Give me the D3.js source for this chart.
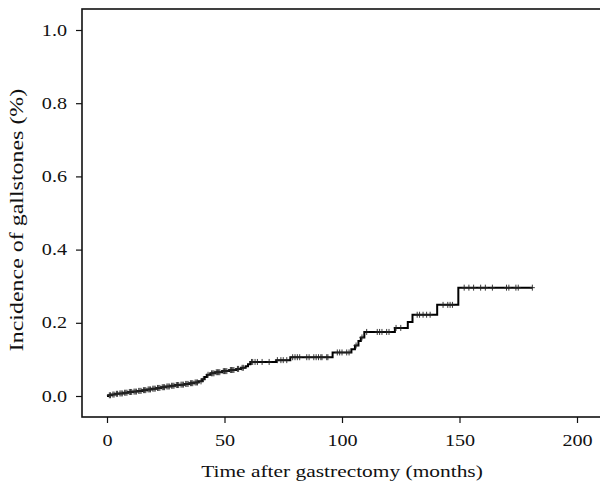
<!DOCTYPE html>
<html>
<head>
<meta charset="utf-8">
<script src="https://cdn.jsdelivr.net/npm/d3@7"></script>
<style>
  body { margin: 0; background: #fff; }
  text { font-family: "Liberation Serif", "DejaVu Serif", serif; fill: #111; }
</style>
</head>
<body>
<svg id="chart" width="600" height="483"></svg>
<script>
// cumulative incidence step curve (event times in months, value after the step)
const stepTimes = [0, 0.5, 2, 3.5, 5, 7, 9, 11, 13, 15, 17, 19, 21, 23, 25, 27, 29, 31, 33, 35, 37, 39,
    40.5, 41.5, 42.5, 44, 46, 49, 52, 55, 57, 59, 60, 61, 72, 78, 96,
    104, 105.5, 107, 108, 109.5, 122.5, 128, 130, 140.5, 149.5]
const stepValues = [0, 0.002, 0.004, 0.006, 0.007, 0.009, 0.011, 0.012, 0.014, 0.016, 0.018, 0.020, 0.022, 0.024, 0.026, 0.028, 0.030, 0.031, 0.033, 0.035, 0.037, 0.040,
    0.046, 0.052, 0.058, 0.062, 0.065, 0.068, 0.071, 0.074, 0.077, 0.081, 0.087, 0.093, 0.098, 0.106, 0.119,
    0.128, 0.138, 0.150, 0.160, 0.175, 0.186, 0.202, 0.222, 0.249, 0.296]
const endTime = 181

// censored observations (months)
const censorTimes = [1, 1.5, 2.5, 3, 4, 4.5, 5.5, 6, 6.5, 7.5, 8, 8.5, 9.5, 10, 10.5, 11.5, 12, 12.5, 13.5, 14, 14.5,
    15.5, 16, 16.5, 17.5, 18, 18.5, 19.5, 20, 20.5, 21.5, 22, 22.5, 23.5, 24, 24.5, 25.5, 26, 26.5, 27.5, 28, 28.5,
    29.5, 30, 30.5, 31.5, 32, 32.5, 33.5, 34, 34.5, 35.5, 36, 36.5, 37.5, 38, 38.5, 40, 41, 43, 44.5, 45, 45.5, 46.5,
    47, 47.5, 48, 49.5, 50, 50.5, 51, 52.5, 53, 53.5, 54, 55.5, 56, 57.5, 58, 61.5, 62, 63, 64, 66, 69, 72.5,
    74, 75, 76.5, 79, 80, 81, 82, 85, 86, 88, 89, 90, 91, 91.5, 93.5, 94, 98, 99, 100, 102, 103,
    106, 108.5, 110.5, 115, 116, 117, 119, 120, 123, 125, 132, 133, 134.5, 136, 137.5,
    143, 145, 146, 147, 152, 154, 156, 159, 161, 164, 170, 171, 174, 175, 181]

const xTicks = [0, 50, 100, 150, 200]
const yTicks = [0, 0.2, 0.4, 0.6, 0.8, 1.0]

const svg = d3.select('#chart')
const frame = { left: 82, top: 9, right: 612, bottom: 417 }
const stretch = 1.26 // the original serif face is wider than Liberation Serif

const x = d3.scaleLinear().domain([0, 200]).range([107, 577])
const y = d3.scaleLinear().domain([0, 1]).range([396, 30])

// step lookup for a time
const valueAt = t => {
    let v = 0
    stepTimes.forEach((s, i) => { if (s <= t) v = stepValues[i] })
    return v
}

// plot frame
svg.append('rect')
    .attr('x', frame.left)
    .attr('y', frame.top)
    .attr('width', frame.right - frame.left)
    .attr('height', frame.bottom - frame.top)
    .attr('fill', 'none')
    .attr('stroke', '#111')
    .attr('stroke-width', 1.6)

// axes
const xAxis = svg.append('g')
    .attr('transform', `translate(0, ${frame.bottom})`)
    .call(d3.axisBottom(x).tickValues(xTicks).tickFormat(d3.format('d')).tickSizeOuter(0).tickSize(6).tickPadding(11.5))
const yAxis = svg.append('g')
    .attr('transform', `translate(${frame.left}, 0)`)
    .call(d3.axisLeft(y).tickValues(yTicks).tickFormat(d3.format('.1f')).tickSizeOuter(0).tickSize(6))

;[xAxis, yAxis].forEach(g => {
    g.select('.domain').remove()
    g.selectAll('.tick line').attr('stroke', '#111').attr('stroke-width', 1.2)
    g.selectAll('.tick text')
        .attr('font-family', '"Liberation Serif", serif')
        .attr('font-size', 16)
        .attr('fill', '#111')
        .attr('transform', `scale(${stretch}, 1)`)
})
yAxis.selectAll('.tick text').attr('x', -15 / stretch)

// step curve
const curvePoints = stepTimes.map((t, i) => [t, stepValues[i]])
curvePoints.push([endTime, stepValues[stepValues.length - 1]])
const line = d3.line()
    .x(d => x(d[0]))
    .y(d => y(d[1]))
    .curve(d3.curveStepAfter)

svg.append('path')
    .datum(curvePoints)
    .attr('d', line)
    .attr('fill', 'none')
    .attr('stroke', '#000')
    .attr('stroke-width', 2)

// censor marks
const marks = svg.append('g')
    .attr('stroke', '#222')
    .attr('stroke-width', 0.9)
marks.selectAll('path')
    .data(censorTimes)
    .join('path')
    .attr('d', t => {
        const cx = x(t), cy = y(valueAt(t))
        return `M${cx - 2.5},${cy}H${cx + 2.5}M${cx},${cy - 3}V${cy + 3}`
    })

// axis titles
svg.append('text')
    .attr('transform', `translate(${x(100)}, 477) scale(${stretch}, 1)`)
    .attr('text-anchor', 'middle')
    .attr('font-size', 17)
    .text('Time after gastrectomy (months)')

svg.append('text')
    .attr('transform', `translate(23, 220) rotate(-90) scale(${stretch}, 1)`)
    .attr('text-anchor', 'middle')
    .attr('font-size', 19)
    .text('Incidence of gallstones (%)')
</script>
</body>
</html>
